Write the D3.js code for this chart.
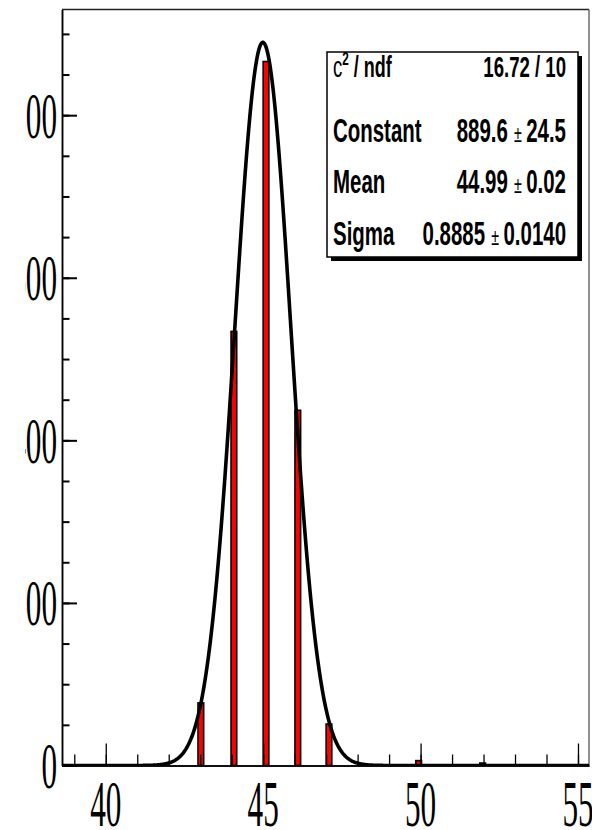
<!DOCTYPE html>
<html>
<head>
<meta charset="utf-8">
<script src="https://cdn.jsdelivr.net/npm/d3@7"></script>
<style>
  html, body { margin: 0; padding: 0; background: #fff; }
  svg { display: block; }
</style>
</head>
<body>
<svg id="chart" width="592" height="830"></svg>
<script>
// Histogram bins (left edge of each filled bin) and their counts
const binStart = [42.93, 43.98, 45.0, 46.01, 47.0, 49.85, 51.88];
const binCount = [77, 534, 866, 437, 51, 6, 3];
const binWidth = 0.18;

// Gaussian fit result
const fitConstant = 889.6;
const fitMean = 44.99;
const fitSigma = 0.8885;

// Axis ticks and labels
const xMajorTicks = [40, 45, 50, 55];
const xMinorTicks = d3.range(39, 56, 1);
const yMajorTicks = [0, 200, 400, 600, 800];
const yMinorTicks = d3.range(0, 930, 50);

// Statistics box rows
const statLabels = ["Constant", "Mean", "Sigma"];
const statValues = ["889.6", "44.99", "0.8885"];
const statErrors = ["24.5", "0.02", "0.0140"];
const chiLabel = ["c", "2", " / ndf"];
const chiValue = "16.72 / 10";

const svg = d3.select("#chart");
const padL = 62, padR = 589, padT = 9.5, padB = 765.5;

const x = d3.scaleLinear().domain([38.61, 55.35]).range([padL, padR]);
const y = d3.scaleLinear().domain([0, 930]).range([padB, padT]);

svg.append("rect").attr("width", 592).attr("height", 830).attr("fill", "#fff");

const defs = svg.append("defs");
defs.append("clipPath").attr("id", "plot")
  .append("rect").attr("x", padL).attr("y", padT)
  .attr("width", padR - padL).attr("height", padB - padT);
defs.append("clipPath").attr("id", "pad")
  .append("rect").attr("x", 25).attr("y", 0).attr("width", 567).attr("height", 830);

// Frame (top and right edges)
svg.append("path")
  .attr("d", `M${padL},${padT}H${padR}`)
  .attr("fill", "none").attr("stroke", "#222").attr("stroke-width", 1.5);
svg.append("path")
  .attr("d", `M${padR},${padT}V${padB}`)
  .attr("fill", "none").attr("stroke", "#555").attr("stroke-width", 1.3);

// Histogram bars
const plot = svg.append("g").attr("clip-path", "url(#plot)");
plot.selectAll("rect.bin")
  .data(binStart.map((s, i) => ({ s, c: binCount[i] })))
  .join("rect")
  .attr("class", "bin")
  .attr("x", d => x(d.s))
  .attr("width", d => x(d.s + binWidth) - x(d.s))
  .attr("y", d => y(d.c))
  .attr("height", d => y(0) - y(d.c))
  .attr("fill", "#ff0000")
  .attr("stroke", "#000")
  .attr("stroke-width", 1.6);

// Axes: minor and major ticks
const xMinor = d3.axisBottom(x).tickValues(xMinorTicks).tickSize(-11).tickSizeOuter(0).tickFormat("");
const xMajor = d3.axisBottom(x).tickValues(xMajorTicks).tickSize(-22).tickSizeOuter(0).tickFormat("");
const yMinor = d3.axisLeft(y).tickValues(yMinorTicks).tickSize(-7.5).tickSizeOuter(0).tickFormat("");
const yMajor = d3.axisLeft(y).tickValues(yMajorTicks).tickSize(-15).tickSizeOuter(0).tickFormat("");

[xMinor, xMajor].forEach(ax => {
  const g = svg.append("g").attr("transform", `translate(0,${padB})`).call(ax);
  g.selectAll("line").attr("stroke", "#000").attr("stroke-width", 1.3);
  g.select(".domain").attr("stroke", "#000").attr("stroke-width", 1.5);
});
[yMinor, yMajor].forEach(ax => {
  const g = svg.append("g").attr("transform", `translate(${padL},0)`).call(ax);
  g.selectAll("line").attr("stroke", "#000").attr("stroke-width", 2);
  g.select(".domain").attr("stroke", "#000").attr("stroke-width", 1.5);
});

// Gaussian fit curve
const gauss = v => fitConstant * Math.exp(-0.5 * Math.pow((v - fitMean) / fitSigma, 2));
const samples = d3.range(38.61, 55.36, 0.02);
plot.append("path")
  .datum(samples)
  .attr("d", d3.line().x(v => x(v)).y(v => y(gauss(v))))
  .attr("fill", "none")
  .attr("stroke", "#000")
  .attr("stroke-width", 3.6)
  .attr("stroke-linejoin", "round");

// Condensed text helper: horizontally squeezed glyphs
function squeezed(parent, px, py, sx) {
  return parent.append("g").attr("transform", `translate(${px},${py}) scale(${sx},1)`);
}

// Tick labels
const labelFont = "'Liberation Serif', 'Times New Roman', serif";
const xl = svg.append("g");
xMajorTicks.forEach(t => {
  squeezed(xl, x(t), 826, 0.48).append("text")
    .attr("text-anchor", "middle")
    .attr("font-family", labelFont).attr("font-size", 65)
    .attr("fill", "#000").text(t);
});
const yl = svg.append("g").attr("clip-path", "url(#pad)");
yMajorTicks.forEach(t => {
  squeezed(yl, 57, y(t) + 22.5, 0.48).append("text")
    .attr("text-anchor", "end")
    .attr("font-family", labelFont).attr("font-size", 65)
    .attr("fill", "#000").text(t);
});

// Statistics box
const boxX = 327, boxY = 52, boxW = 251, boxH = 205;
svg.append("rect").attr("x", boxX + 4).attr("y", boxY + 4)
  .attr("width", boxW).attr("height", boxH).attr("fill", "#000");
svg.append("rect").attr("x", boxX).attr("y", boxY)
  .attr("width", boxW).attr("height", boxH)
  .attr("fill", "#fff").attr("stroke", "#000").attr("stroke-width", 1.5);

const statFont = "'Liberation Sans', Arial, Helvetica, sans-serif";
const sx = 0.62;
const textLeft = 333, textRight = 566;

// chi-square row
const chiText = squeezed(svg, textLeft, 77, sx).append("text")
  .attr("font-family", statFont).attr("font-size", 29).attr("fill", "#000");
chiText.append("tspan").attr("font-weight", "normal").attr("font-size", 30).text(chiLabel[0]);
chiText.append("tspan").attr("font-weight", "bold").attr("font-size", 19).attr("dy", -12).text(chiLabel[1]);
chiText.append("tspan").attr("font-weight", "bold").attr("dy", 12).text(chiLabel[2]);
squeezed(svg, textRight, 77, sx).append("text")
  .attr("text-anchor", "end").attr("font-family", statFont)
  .attr("font-size", 30).attr("font-weight", "bold").attr("fill", "#000")
  .text(chiValue);

// parameter rows
const rowBase = [142, 193, 245];
statLabels.forEach((lab, i) => {
  squeezed(svg, textLeft, rowBase[i], sx).append("text")
    .attr("font-family", statFont).attr("font-size", 33)
    .attr("font-weight", "bold").attr("fill", "#000").text(lab);
  const t = squeezed(svg, textRight, rowBase[i], sx).append("text")
    .attr("text-anchor", "end").attr("font-family", statFont)
    .attr("font-size", 33).attr("fill", "#000");
  t.append("tspan").attr("font-weight", "bold").text(statValues[i]);
  t.append("tspan").attr("font-weight", "normal").attr("font-size", 23).attr("dx", 10).text("\u00B1");
  t.append("tspan").attr("font-weight", "bold").attr("dx", 7).text(statErrors[i]);
});
</script>
</body>
</html>
